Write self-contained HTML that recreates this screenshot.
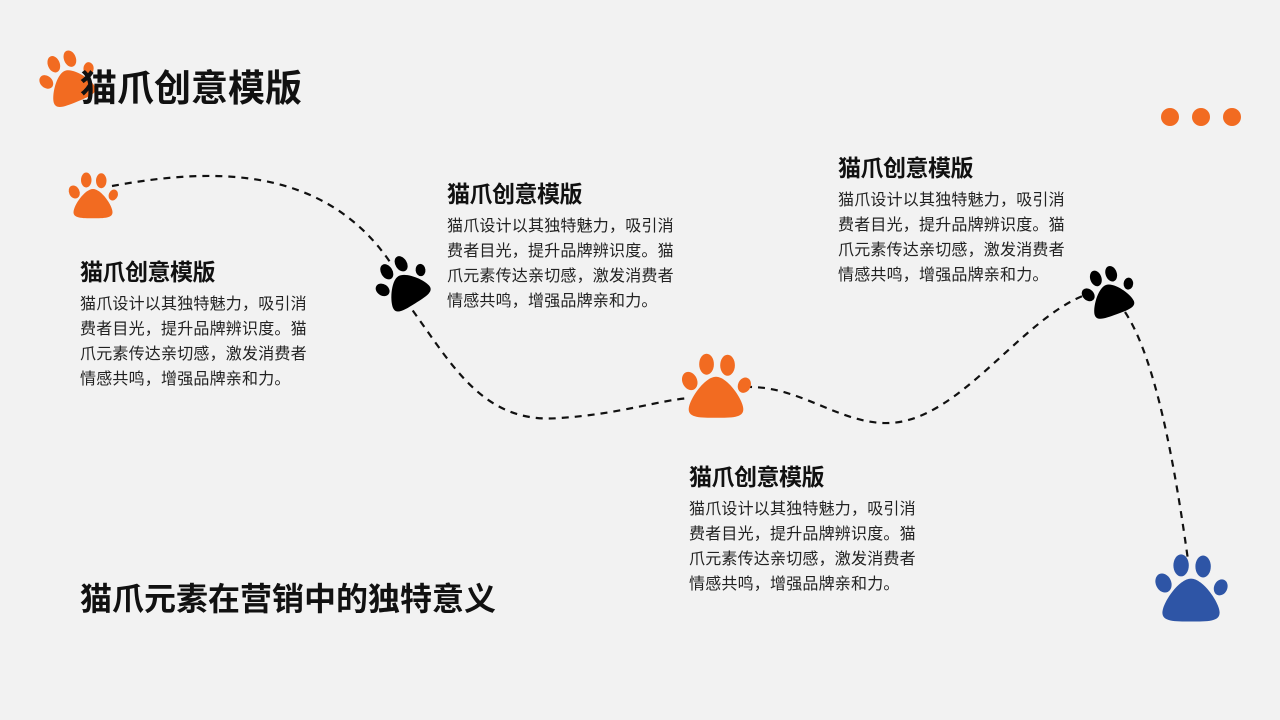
<!DOCTYPE html>
<html><head><meta charset="utf-8"><style>
body{margin:0;width:1280px;height:720px;background:#f2f2f2;position:relative;overflow:hidden;font-family:"Liberation Sans","Noto Sans CJK SC",sans-serif;color:#111}
svg{position:absolute;left:0;top:0}
.t{position:absolute;font-weight:bold;white-space:nowrap}
.h{position:absolute;font-size:23px;font-weight:bold;letter-spacing:-0.5px}
.b{position:absolute;font-size:16px;line-height:25px;width:236px;color:#222;letter-spacing:0.2px}
</style></head><body>
<svg width="1280" height="720">
<defs>
<g id="paw">
<path d="M0,-4 C11,-4 26,18 26,27 C26,35 15,35 0,35 C-15,35 -26,35 -26,27 C-26,18 -11,-4 0,-4Z"/>
<ellipse cx="-25" cy="0" rx="7" ry="9" transform="rotate(-25 -25 0)"/>
<ellipse cx="-9" cy="-16" rx="7" ry="10"/>
<ellipse cx="11" cy="-15" rx="7" ry="10"/>
<ellipse cx="27" cy="4" rx="6" ry="7.5" transform="rotate(25 27 4)"/>
</g>
</defs>
<g fill="none" stroke="#111" stroke-width="2.2" stroke-dasharray="7 6">
<path d="M112,186 C200,170 320,160 390,262"/>
<path d="M405,300 C450,360 480,425 560,418 C620,414 660,400 690,398"/>
<path d="M745,387 C800,385 840,425 890,423 C960,420 1020,320 1085,295"/>
<path d="M1125,312 C1150,350 1170,430 1188,560"/>
</g>
<use href="#paw" fill="#f26b21" transform="translate(66,74) rotate(-22) scale(0.85)"/>
<use href="#paw" fill="#f26b21" transform="translate(93,192) scale(0.75)"/>
<use href="#paw" fill="#000" transform="translate(400,279) rotate(-32) scale(0.82)"/>
<use href="#paw" fill="#f26b21" transform="translate(716,381) scale(1.05)"/>
<use href="#paw" fill="#000" transform="translate(1107,288) rotate(-20) scale(0.8)"/>
<use href="#paw" fill="#2e55a6" transform="translate(1191,583) scale(1.1)"/>
<circle cx="1170" cy="117" r="9" fill="#f26b21"/>
<circle cx="1201" cy="117" r="9" fill="#f26b21"/>
<circle cx="1232" cy="117" r="9" fill="#f26b21"/>
</svg>
<div class="t" style="left:80px;top:58px;font-size:37px">猫爪创意模版</div>
<div class="t" style="left:80px;top:574px;font-size:32px">猫爪元素在营销中的独特意义</div>
<div class="h" style="left:80px;top:253px">猫爪创意模版</div>
<div class="b" style="left:80px;top:292px">猫爪设计以其独特魅力，吸引消费者目光，提升品牌辨识度。猫爪元素传达亲切感，激发消费者情感共鸣，增强品牌亲和力。</div>
<div class="h" style="left:447px;top:175px">猫爪创意模版</div>
<div class="b" style="left:447px;top:214px">猫爪设计以其独特魅力，吸引消费者目光，提升品牌辨识度。猫爪元素传达亲切感，激发消费者情感共鸣，增强品牌亲和力。</div>
<div class="h" style="left:838px;top:149px">猫爪创意模版</div>
<div class="b" style="left:838px;top:188px">猫爪设计以其独特魅力，吸引消费者目光，提升品牌辨识度。猫爪元素传达亲切感，激发消费者情感共鸣，增强品牌亲和力。</div>
<div class="h" style="left:689px;top:458px">猫爪创意模版</div>
<div class="b" style="left:689px;top:497px">猫爪设计以其独特魅力，吸引消费者目光，提升品牌辨识度。猫爪元素传达亲切感，激发消费者情感共鸣，增强品牌亲和力。</div>
</body></html>
